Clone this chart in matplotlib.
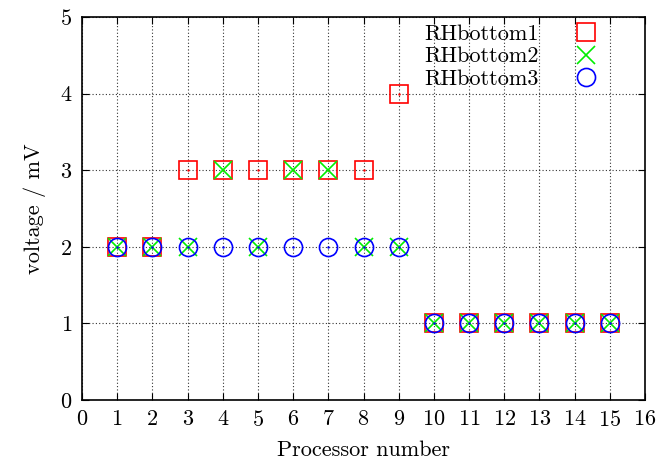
import matplotlib
matplotlib.use("Agg")
import matplotlib.pyplot as plt
import numpy as np

plt.rcParams["font.family"] = "serif"
plt.rcParams["font.serif"] = ["cmr10"]
plt.rcParams["axes.formatter.use_mathtext"] = True

processors = np.arange(1, 16)
rh_bottom1 = [2, 2, 3, 3, 3, 3, 3, 3, 4, 1, 1, 1, 1, 1, 1]
rh_bottom2 = [2, 2, 2, 3, 2, 3, 3, 2, 2, 1, 1, 1, 1, 1, 1]
rh_bottom3 = [2, 2, 2, 2, 2, 2, 2, 2, 2, 1, 1, 1, 1, 1, 1]

fig = plt.figure(figsize=(6.62, 4.68), dpi=100)
ax = fig.add_axes([82 / 662, 68 / 468, (645 - 82) / 662, (400 - 17) / 468])

ms = 13
ax.plot(processors, rh_bottom1, ls="none", marker="s", ms=ms, mfc="none",
        mec="#ff0000", mew=1.2, label="RHbottom1", zorder=3)
ax.plot(processors, rh_bottom1, ls="none", marker=".", ms=1.5, color="#ff0000", zorder=3)
ax.plot(processors, rh_bottom2, ls="none", marker="x", ms=ms, mec="#00ee00",
        mew=1.2, label="RHbottom2", zorder=4)
ax.plot(processors, rh_bottom3, ls="none", marker="o", ms=ms, mfc="none",
        mec="#0000ff", mew=1.2, label="RHbottom3", zorder=5)
ax.plot(processors, rh_bottom3, ls="none", marker=".", ms=1.5, color="#0000ff", zorder=5)

ax.set_xlim(0, 16)
ax.set_ylim(0, 5)
ax.set_xticks(range(0, 17))
ax.set_yticks(range(0, 6))
ax.tick_params(direction="in", top=True, right=True, labelsize=16, length=5, pad=7)
ax.grid(True, color="black", linestyle=(0, (1, 2)), linewidth=0.8, alpha=0.8)
for s in ax.spines.values():
    s.set_linewidth(1.2)

ax.set_xlabel("Processor number", fontsize=16, labelpad=8)
ax.set_ylabel("voltage / mV", fontsize=16, labelpad=10)

ax.legend(loc="upper right", bbox_to_anchor=(0.946, 1.021), frameon=False,
          markerfirst=False, fontsize=16, handletextpad=1.5,
          labelspacing=0.12, handlelength=1.2, borderaxespad=0.3)

fig.savefig("out.png", dpi=100)
